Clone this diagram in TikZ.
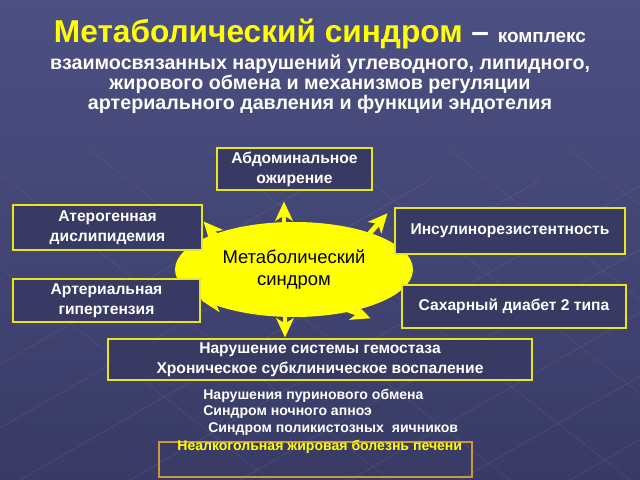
\documentclass[tikz,border=0pt]{standalone}
\usepackage{fontspec}
\setmainfont{Liberation Sans}
\usetikzlibrary{shapes.geometric,arrows.meta}

\definecolor{bgtop}{HTML}{4C4F82}
\definecolor{bgbot}{HTML}{393B66}
\definecolor{boxbg}{HTML}{383A64}
\definecolor{ylw}{HTML}{FFFF00}
\definecolor{frame}{HTML}{E6E61E}
\definecolor{ochre}{HTML}{C89A3A}

\newdimen\pxu
\pxu=0.02cm

\tikzset{
  box/.style={draw=frame, line width=1.7pt, fill=boxbg, text=white, align=center,
    font=\fontsize{8.9}{11.3}\selectfont\bfseries, inner sep=0pt},
  arr/.style={draw=ylw, line width=2.8pt, -{Stealth[length=11pt,width=10pt,inset=3pt]}},
  item/.style={anchor=west, inner sep=0pt, text=white, font=\fontsize{8}{9}\selectfont\bfseries},
}

\begin{document}
\begin{tikzpicture}[x=0.02cm, y=-0.02cm]
\shade[top color=bgtop, bottom color=bgbot] (0,0) rectangle (640,480);
\useasboundingbox (0,0) rectangle (640,480);
% faint mesh in the background
\foreach \i in {0,...,8}
  \draw[white, opacity=0.06, line width=0.6pt] (\i*110-200,480) -- ++(520,-300);
\foreach \i in {0,...,7}
  \draw[white, opacity=0.05, line width=0.6pt] (\i*120-150,150) -- ++(420,330);

% heading
\node[text=white, font=\bfseries] (title) at (320,34)
  {\fontsize{18}{21}\selectfont\textcolor{ylw}{Метаболический синдром} – \fontsize{10.8}{13}\selectfont комплекс};
\node[text=white, align=center, font=\fontsize{11.2}{11.5}\selectfont\bfseries] (sub) at (320,84)
  {взаимосвязанных нарушений углеводного, липидного,\\жирового обмена и механизмов регуляции\\артериального давления и функции эндотелия};

% centre
\node[ellipse, fill=ylw, minimum width=238\pxu, minimum height=95\pxu, align=center,
  font=\fontsize{10.5}{12.5}\selectfont, inner sep=0pt] (ms) at (294,269.5) {Метаболический\\синдром};

% components
\node[box, minimum width=155\pxu, minimum height=42\pxu] (abd) at (294.5,169) {Абдоминальное\\ожирение};
\node[box, minimum width=189\pxu, minimum height=45\pxu] (ather) at (107.5,227.5) {Атерогенная\\дислипидемия};
\node[box, minimum width=187\pxu, minimum height=43\pxu] (art) at (106.5,300.5) {Артериальная\\гипертензия};
\node[box, minimum width=230\pxu, minimum height=46\pxu] (ins) at (510,231) {Инсулинорезистентность};
\node[box, minimum width=224\pxu, minimum height=43\pxu] (diab) at (514,306.5) {Сахарный диабет 2 типа};
\node[box, minimum width=424\pxu, minimum height=41\pxu] (hem) at (320,359.5)
  {Нарушение системы гемостаза\\Хроническое субклиническое воспаление};

% further disorders
\node[draw=ochre, line width=1.5pt, minimum width=313\pxu, minimum height=35\pxu, inner sep=0pt] (liver) at (315.5,459.5) {};
\node[item] (p1) at (203,396) {Нарушения пуринового обмена};
\node[item] (p2) at (203,412.5) {Синдром ночного апноэ};
\node[item] (p3) at (208,429) {Синдром поликистозных\ \ яичников};
\node[item, text=ylw] (p4) at (177,447) {Неалкогольная жировая болезнь печени};

% arrows out of the centre
\coordinate (up) at (284,236);
\coordinate (ul) at (222,242);
\coordinate (ur) at (362,242);
\coordinate (dl) at (240,306);
\coordinate (dr) at (335,305);
\coordinate (dn) at (285,300);

\path[arr, shorten >=10\pxu] (up) -- (abd.south -| up);
\path[arr] (ul) -- ([yshift=6\pxu]ather.east);
\path[arr, shorten >=9\pxu] (ur) -- (ins.north west);
\path[arr] (dl) -- (art.east);
\path[arr, shorten >=32\pxu] (dr) -- (diab.south west);
\path[arr] (dn) -- (hem.north -| dn);
\end{tikzpicture}
\end{document}
